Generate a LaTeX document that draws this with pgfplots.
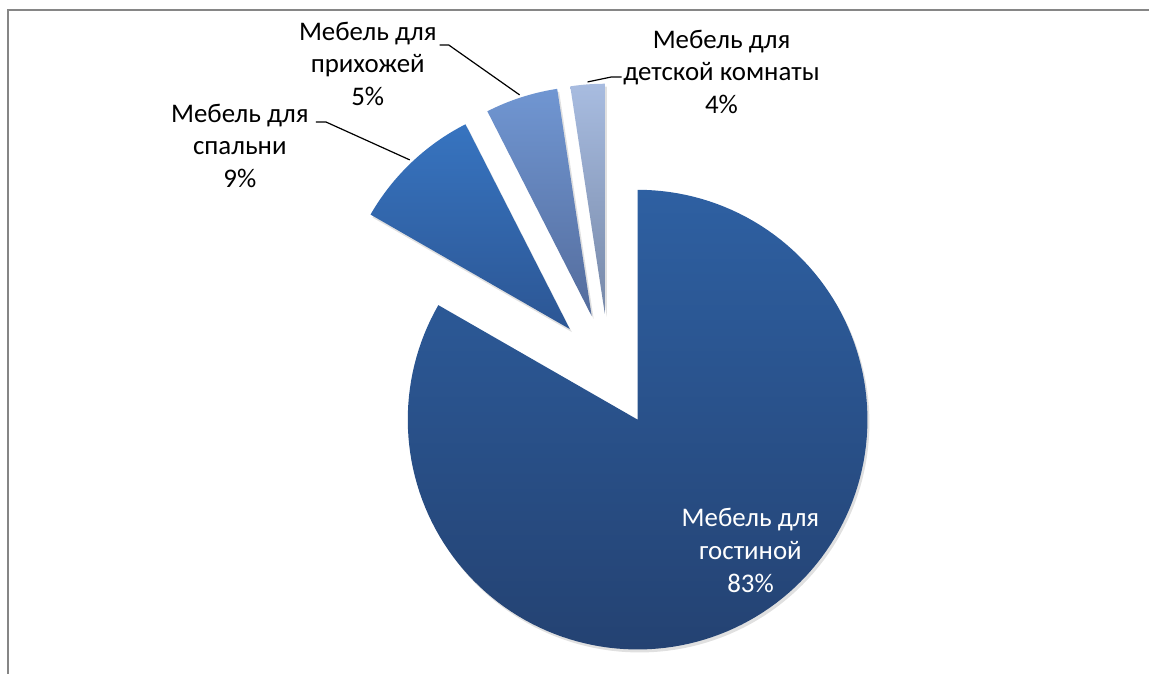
\documentclass[border=0pt]{standalone}
\usepackage{fontspec}
\setmainfont{Carlito}
\usepackage{pgfplots}
\pgfplotsset{compat=1.18}
\definecolor{bigT}{RGB}{46,96,162}
\definecolor{bigB}{RGB}{36,66,114}
\definecolor{bedT}{RGB}{55,116,192}
\definecolor{bedB}{RGB}{44,86,148}
\definecolor{halT}{RGB}{112,150,210}
\definecolor{halB}{RGB}{84,108,156}
\definecolor{kidT}{RGB}{168,188,224}
\definecolor{kidB}{RGB}{118,136,168}
\definecolor{frame}{RGB}{134,134,134}
\begin{document}
\begin{tikzpicture}
\begin{axis}[width=575bp, height=337bp, scale only axis,
  xmin=0, xmax=1150, ymin=0, ymax=674, hide axis, clip=false]
\path (axis cs:0,0) rectangle (axis cs:1150,674);
% frame
\draw[frame, line width=0.8bp] (axis cs:8,0) -- (axis cs:8,664) -- (axis cs:1150,664);
% shares (percent): living 83.3, bedroom 9.2, hall 5.1, kids 2.4
% shadows
\addplot[draw=none, fill=black, fill opacity=0.12, domain=150.12:450, samples=150, variable=\t]
  ({640.05+230*cos(t)}, {251.07+230*sin(t)}) -- (axis cs:640.05,251.07) -- cycle;
\addplot[draw=none, fill=black, fill opacity=0.12, domain=117.0:150.12, samples=30, variable=\t]
  ({572.2+230*cos(t)}, {341.7+230*sin(t)}) -- (axis cs:572.2,341.7) -- cycle;
\addplot[draw=none, fill=black, fill opacity=0.12, domain=98.64:117.0, samples=20, variable=\t]
  ({594.1+230*cos(t)}, {354.7+230*sin(t)}) -- (axis cs:594.1,354.7) -- cycle;
\addplot[draw=none, fill=black, fill opacity=0.12, domain=90:98.64, samples=12, variable=\t]
  ({607.2+230*cos(t)}, {357.2+230*sin(t)}) -- (axis cs:607.2,357.2) -- cycle;
% slices
\addplot[draw=none, top color=bigT, bottom color=bigB, domain=150.12:450, samples=150, variable=\t]
  ({638.05+230*cos(t)}, {254.07+230*sin(t)}) -- (axis cs:638.05,254.07) -- cycle;
\addplot[draw=none, top color=bedT, bottom color=bedB, domain=117.0:150.12, samples=30, variable=\t]
  ({570.2+230*cos(t)}, {344.7+230*sin(t)}) -- (axis cs:570.2,344.7) -- cycle;
\addplot[draw=none, top color=halT, bottom color=halB, domain=98.64:117.0, samples=20, variable=\t]
  ({592.1+230*cos(t)}, {357.7+230*sin(t)}) -- (axis cs:592.1,357.7) -- cycle;
\addplot[draw=none, top color=kidT, bottom color=kidB, domain=90:98.64, samples=12, variable=\t]
  ({605.2+230*cos(t)}, {360.2+230*sin(t)}) -- (axis cs:605.2,360.2) -- cycle;
% leader lines
\draw[black, line width=0.6bp] (axis cs:316,552) -- (axis cs:326,552) -- (axis cs:410,514);
\draw[black, line width=0.6bp] (axis cs:440,629) -- (axis cs:449,629) -- (axis cs:520,579);
\draw[black, line width=0.6bp] (axis cs:588,592) -- (axis cs:612,597) -- (axis cs:622,597);
% labels
\tikzset{lab/.style={align=center, font=\fontsize{13.5}{16.5}\selectfont, inner sep=0pt}}
\node[lab, white] at (axis cs:751,123) {Мебель для\\гостиной\\83\%};
\node[lab] at (axis cs:240,528) {Мебель для\\спальни\\9\%};
\node[lab] at (axis cs:368,610) {Мебель для\\прихожей\\5\%};
\node[lab] at (axis cs:722,602) {Мебель для\\детской комнаты\\4\%};
\end{axis}
\end{tikzpicture}
\end{document}
